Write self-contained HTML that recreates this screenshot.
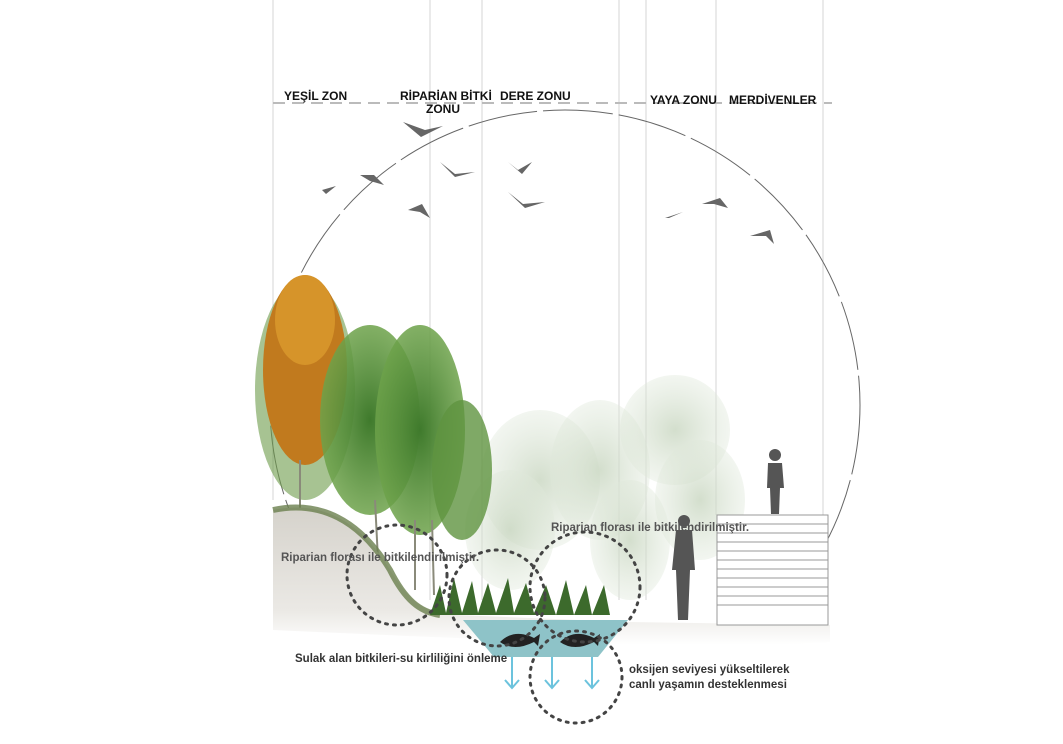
<!DOCTYPE html>
<html><head><meta charset="utf-8"><style>
body{margin:0;background:#fff;}
svg{display:block;font-family:"Liberation Sans",sans-serif;}
</style></head><body>
<svg width="1063" height="744" viewBox="0 0 1063 744" xmlns="http://www.w3.org/2000/svg">
<defs>
<radialGradient id="g1"><stop offset="0" stop-color="#3f7a2c"/><stop offset="1" stop-color="#6da24a" stop-opacity="0.85"/></radialGradient>
<radialGradient id="g2"><stop offset="0" stop-color="#c8d6c0" stop-opacity="0.8"/><stop offset="1" stop-color="#dfe8da" stop-opacity="0.4"/></radialGradient>
<linearGradient id="gr" x1="0" y1="0" x2="0" y2="1"><stop offset="0" stop-color="#d5d2cb"/><stop offset="0.75" stop-color="#ebe9e5"/><stop offset="1" stop-color="#fff"/></linearGradient>
<clipPath id="cc"><rect x="0" y="0" width="1063" height="612"/></clipPath>
</defs>
<g stroke="#d4d4d4" stroke-width="1">
<line x1="273" y1="0" x2="273" y2="500"/><line x1="430" y1="0" x2="430" y2="600"/>
<line x1="482" y1="0" x2="482" y2="600"/><line x1="619" y1="0" x2="619" y2="600"/>
<line x1="646" y1="0" x2="646" y2="600"/><line x1="716" y1="0" x2="716" y2="515"/>
<line x1="823" y1="0" x2="823" y2="515"/>
</g>
<line x1="273" y1="103" x2="832" y2="103" stroke="#bbb" stroke-width="2" stroke-dasharray="12,7"/>
<g font-size="12" font-weight="bold" fill="#111">
<text x="284" y="100">YEŞİL ZON</text>
<text x="400" y="100">RİPARİAN BİTKİ</text>
<text x="426" y="113">ZONU</text>
<text x="500" y="100">DERE ZONU</text>
<text x="650" y="104">YAYA ZONU</text>
<text x="729" y="104">MERDİVENLER</text>
</g>
<circle cx="565" cy="405" r="295" fill="none" stroke="#666" stroke-width="1" stroke-dasharray="70,6" clip-path="url(#cc)"/>
<g fill="#666">
<path d="M403,122 l22,8 l18,-4 l-16,8 l-6,3 z"/><path d="M440,162 l15,12 l20,-2 l-20,5 z"/>
<path d="M508,162 l10,8 l14,-8 l-10,12 z"/><path d="M508,192 l15,12 l22,-2 l-20,6 z"/>
<path d="M360,175 l14,0 l10,10 l-14,-4 z"/><path d="M322,190 l14,-4 l-10,8 z"/>
<path d="M408,210 l14,-6 l8,14 l-10,-6 z"/><path d="M665,218 l18,-6 l-14,6 z"/>
<path d="M702,204 l18,-6 l8,10 l-14,-4 z"/><path d="M750,236 l20,-6 l4,14 l-8,-8 z"/>
</g>
<g fill="url(#g2)">
<ellipse cx="540" cy="480" rx="60" ry="70"/><ellipse cx="600" cy="470" rx="50" ry="70"/>
<ellipse cx="675" cy="430" rx="55" ry="55"/><ellipse cx="700" cy="500" rx="45" ry="60"/>
<ellipse cx="510" cy="530" rx="45" ry="60"/><ellipse cx="630" cy="540" rx="40" ry="60"/>
</g>
<g>
<ellipse cx="305" cy="390" rx="50" ry="110" fill="#6d9b4a" opacity="0.6"/>
<ellipse cx="305" cy="370" rx="42" ry="95" fill="#c17a1e"/>
<ellipse cx="305" cy="320" rx="30" ry="45" fill="#d6942a"/>
<ellipse cx="370" cy="420" rx="50" ry="95" fill="url(#g1)"/>
<ellipse cx="420" cy="430" rx="45" ry="105" fill="url(#g1)"/>
<ellipse cx="462" cy="470" rx="30" ry="70" fill="#5f9440" opacity="0.8"/>
<g stroke="#8a8a7a" stroke-width="2"><line x1="300" y1="460" x2="300" y2="520"/><line x1="375" y1="500" x2="378" y2="560"/><line x1="415" y1="520" x2="415" y2="590"/><line x1="432" y1="520" x2="434" y2="595"/></g>
</g>
<path d="M273,510 C320,500 360,520 390,570 C410,600 420,612 455,615 L628,622 L830,625 L830,642 C700,650 500,640 273,630 Z" fill="url(#gr)"/>
<path d="M273,510 C320,500 360,520 390,570 C405,600 420,612 440,615" fill="none" stroke="#6a7f4d" stroke-width="6" opacity="0.8"/>
<g fill="#3c6a2c"><path d="M430,615 l10,-30 l6,28 l8,-35 l8,35 l10,-32 l6,32 l10,-30 l8,30 l12,-35 l6,35 l12,-30 l8,30 l12,-28 l10,30 l10,-35 l8,35 l12,-30 l6,30 l12,-30 l6,30 z"/></g>
<path d="M463,620 L628,620 L598,657 L494,657 Z" fill="#8ec3c8"/>
<path d="M500,642 q14,-14 34,-4 l6,-4 l-2,12 l-4,-4 q-20,10 -34,0 z M560,642 q14,-14 34,-4 l6,-4 l-2,12 l-4,-4 q-20,10 -34,0 z" fill="#222"/>
<g stroke="#6cc3dd" stroke-width="2" fill="none">
<path d="M512,657 v30 M505,680 l7,8 l7,-8"/><path d="M552,657 v30 M545,680 l7,8 l7,-8"/><path d="M592,657 v30 M585,680 l7,8 l7,-8"/>
</g>
<rect x="717" y="515" width="111" height="110" fill="#fff" stroke="#999"/>
<g stroke="#999"><line x1="717" y1="524" x2="828" y2="524"/><line x1="717" y1="533" x2="828" y2="533"/><line x1="717" y1="542" x2="828" y2="542"/><line x1="717" y1="551" x2="828" y2="551"/><line x1="717" y1="560" x2="828" y2="560"/><line x1="717" y1="569" x2="828" y2="569"/><line x1="717" y1="578" x2="828" y2="578"/><line x1="717" y1="587" x2="828" y2="587"/><line x1="717" y1="596" x2="828" y2="596"/><line x1="717" y1="605" x2="828" y2="605"/></g>
<g fill="#555">
<circle cx="684" cy="521" r="6"/><path d="M676,530 h16 l3,40 h-5 l-2,50 h-10 l-2,-50 h-4 z"/>
<circle cx="775" cy="455" r="6"/><path d="M768,463 h14 l2,25 h-4 l-1,26 h-8 l-1,-26 h-3 z"/>
</g>
<g fill="none" stroke="#444" stroke-width="3" stroke-dasharray="2,6" stroke-linecap="round">
<circle cx="397" cy="575" r="50"/><circle cx="497" cy="598" r="48"/><circle cx="585" cy="587" r="55"/><circle cx="576" cy="677" r="46"/>
</g>
<g font-size="11.5" font-weight="bold" fill="#555">
<text x="281" y="561">Riparian florası ile bitkilendirilmiştir.</text>
<text x="551" y="531">Riparian florası ile bitkilendirilmiştir.</text>
<text x="295" y="662" fill="#333">Sulak alan bitkileri-su kirliliğini önleme</text>
<text x="629" y="673" fill="#333">oksijen seviyesi yükseltilerek</text>
<text x="629" y="688" fill="#333">canlı yaşamın desteklenmesi</text>
</g>
</svg>
</body></html>
